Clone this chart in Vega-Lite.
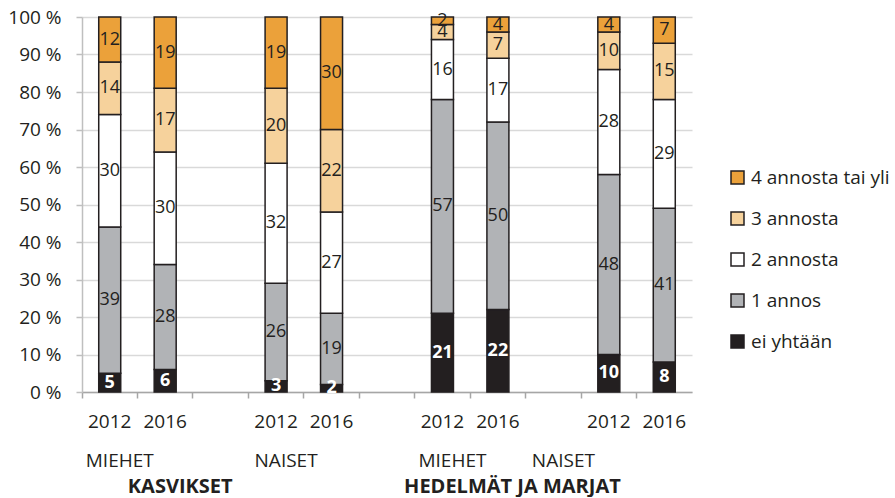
{
  "$schema": "https://vega.github.io/schema/vega-lite/v6.json",
  "width": 610,
  "height": 375,
  "padding": {"left": 7, "top": 8, "right": 0, "bottom": 0},
  "background": "white",
  "config": {"view": {"stroke": null}, "font": "Open Sans", "text": {"font": "Open Sans"}},
  "datasets": {
    "bars": [
      {"slot": "a1", "cat": "ei yhtään", "rank": 0, "value": 5},
      {"slot": "a1", "cat": "1 annos", "rank": 1, "value": 39},
      {"slot": "a1", "cat": "2 annosta", "rank": 2, "value": 30},
      {"slot": "a1", "cat": "3 annosta", "rank": 3, "value": 14},
      {"slot": "a1", "cat": "4 annosta tai yli", "rank": 4, "value": 12},
      {"slot": "a2", "cat": "ei yhtään", "rank": 0, "value": 6},
      {"slot": "a2", "cat": "1 annos", "rank": 1, "value": 28},
      {"slot": "a2", "cat": "2 annosta", "rank": 2, "value": 30},
      {"slot": "a2", "cat": "3 annosta", "rank": 3, "value": 17},
      {"slot": "a2", "cat": "4 annosta tai yli", "rank": 4, "value": 19},
      {"slot": "b1", "cat": "ei yhtään", "rank": 0, "value": 3},
      {"slot": "b1", "cat": "1 annos", "rank": 1, "value": 26},
      {"slot": "b1", "cat": "2 annosta", "rank": 2, "value": 32},
      {"slot": "b1", "cat": "3 annosta", "rank": 3, "value": 20},
      {"slot": "b1", "cat": "4 annosta tai yli", "rank": 4, "value": 19},
      {"slot": "b2", "cat": "ei yhtään", "rank": 0, "value": 2},
      {"slot": "b2", "cat": "1 annos", "rank": 1, "value": 19},
      {"slot": "b2", "cat": "2 annosta", "rank": 2, "value": 27},
      {"slot": "b2", "cat": "3 annosta", "rank": 3, "value": 22},
      {"slot": "b2", "cat": "4 annosta tai yli", "rank": 4, "value": 30},
      {"slot": "c1", "cat": "ei yhtään", "rank": 0, "value": 21},
      {"slot": "c1", "cat": "1 annos", "rank": 1, "value": 57},
      {"slot": "c1", "cat": "2 annosta", "rank": 2, "value": 16},
      {"slot": "c1", "cat": "3 annosta", "rank": 3, "value": 4},
      {"slot": "c1", "cat": "4 annosta tai yli", "rank": 4, "value": 2},
      {"slot": "c2", "cat": "ei yhtään", "rank": 0, "value": 22},
      {"slot": "c2", "cat": "1 annos", "rank": 1, "value": 50},
      {"slot": "c2", "cat": "2 annosta", "rank": 2, "value": 17},
      {"slot": "c2", "cat": "3 annosta", "rank": 3, "value": 7},
      {"slot": "c2", "cat": "4 annosta tai yli", "rank": 4, "value": 4},
      {"slot": "d1", "cat": "ei yhtään", "rank": 0, "value": 10},
      {"slot": "d1", "cat": "1 annos", "rank": 1, "value": 48},
      {"slot": "d1", "cat": "2 annosta", "rank": 2, "value": 28},
      {"slot": "d1", "cat": "3 annosta", "rank": 3, "value": 10},
      {"slot": "d1", "cat": "4 annosta tai yli", "rank": 4, "value": 4},
      {"slot": "d2", "cat": "ei yhtään", "rank": 0, "value": 8},
      {"slot": "d2", "cat": "1 annos", "rank": 1, "value": 41},
      {"slot": "d2", "cat": "2 annosta", "rank": 2, "value": 29},
      {"slot": "d2", "cat": "3 annosta", "rank": 3, "value": 15},
      {"slot": "d2", "cat": "4 annosta tai yli", "rank": 4, "value": 7}
    ],
    "groups": [
      {"slot": "a1", "label": "MIEHET"},
      {"slot": "b1", "label": "NAISET"},
      {"slot": "c1", "label": "MIEHET"},
      {"slot": "gz", "label": "NAISET"}
    ],
    "titles": [
      {"slot": "gx", "label": "KASVIKSET"},
      {"slot": "d1", "label": "HEDELMÄT JA MARJAT"}
    ]
  },
  "layer": [
    {
      "data": {"name": "bars"},
      "transform": [
        {"stack": "value", "groupby": ["slot"], "sort": [{"field": "rank", "order": "ascending"}], "as": ["v0", "v1"]}
      ],
      "mark": {"type": "bar", "width": 22, "stroke": "#231F20", "strokeWidth": 1.5},
      "encoding": {
        "x": {
          "field": "slot", "type": "nominal",
          "scale": {"domain": ["a1","a2","gx","b1","b2","gy","c1","c2","gz","d1","d2"], "paddingInner": 0, "paddingOuter": 0},
          "axis": {
            "title": null, "labelAngle": 0, "bandPosition": 0,
            "labelExpr": "indexof(datum.value,'1')>=0 ? '2012' : (indexof(datum.value,'2')>=0 ? '2016' : '')",
            "labelFontSize": 19, "labelColor": "#231F20", "labelPadding": 14, "labelOverlap": false,
            "domainColor": "#A6A6A6", "domainWidth": 1.5, "tickColor": "#A6A6A6", "tickWidth": 1.5, "tickSize": 6,
            "grid": false
          }
        },
        "y": {
          "field": "v0", "type": "quantitative",
          "scale": {"domain": [0, 100], "nice": false},
          "axis": {
            "title": null, "values": [0,10,20,30,40,50,60,70,80,90,100],
            "labelExpr": "datum.value + ' %'", "labelOverlap": false,
            "labelFontSize": 19, "labelColor": "#231F20", "labelPadding": 15,
            "grid": true, "gridColor": "#D9D9D9", "gridWidth": 1.5,
            "domainColor": "#BFBFBF", "domainWidth": 1.5, "tickColor": "#BFBFBF", "tickWidth": 1.5, "tickSize": 6
          }
        },
        "y2": {"field": "v1"},
        "color": {
          "field": "cat", "type": "nominal",
          "scale": {
            "domain": ["4 annosta tai yli", "3 annosta", "2 annosta", "1 annos", "ei yhtään"],
            "range": ["#EBA13A", "#F6D29C", "#FFFFFF", "#B1B3B6", "#231F20"]
          },
          "legend": {
            "title": null, "orient": "none", "legendX": 646, "legendY": 151,
            "symbolType": "square", "symbolSize": 169, "symbolStrokeColor": "#231F20", "symbolStrokeWidth": 1.5,
            "labelFontSize": 19, "labelColor": "#231F20", "rowPadding": 21, "labelOffset": 4
          }
        }
      }
    },
    {
      "data": {"name": "bars"},
      "transform": [
        {"stack": "value", "groupby": ["slot"], "sort": [{"field": "rank", "order": "ascending"}], "as": ["v0", "v1"]},
        {"calculate": "(datum.v0 + datum.v1) / 2", "as": "mid"},
        {"filter": "datum.cat !== 'ei yhtään'"}
      ],
      "mark": {"type": "text", "fontSize": 18, "color": "#231F20", "baseline": "middle"},
      "encoding": {
        "x": {"field": "slot", "type": "nominal"},
        "y": {
          "field": "mid", "type": "quantitative",
          "axis": {
            "title": null, "values": [0,10,20,30,40,50,60,70,80,90,100],
            "labelExpr": "datum.value + ' %'", "labelOverlap": false,
            "labelFontSize": 19, "labelColor": "#231F20", "labelPadding": 15,
            "grid": true, "gridColor": "#D9D9D9", "gridWidth": 1.5,
            "domainColor": "#BFBFBF", "domainWidth": 1.5, "tickColor": "#BFBFBF", "tickWidth": 1.5, "tickSize": 6
          }
        },
        "text": {"field": "value", "type": "quantitative"}
      }
    },
    {
      "data": {"name": "bars"},
      "transform": [
        {"stack": "value", "groupby": ["slot"], "sort": [{"field": "rank", "order": "ascending"}], "as": ["v0", "v1"]},
        {"calculate": "(datum.v0 + datum.v1) / 2", "as": "mid"},
        {"filter": "datum.cat === 'ei yhtään'"}
      ],
      "mark": {"type": "text", "fontSize": 18, "fontWeight": "bold", "color": "#FFFFFF", "baseline": "middle"},
      "encoding": {
        "x": {"field": "slot", "type": "nominal"},
        "y": {
          "field": "mid", "type": "quantitative",
          "axis": {
            "title": null, "values": [0,10,20,30,40,50,60,70,80,90,100],
            "labelExpr": "datum.value + ' %'", "labelOverlap": false,
            "labelFontSize": 19, "labelColor": "#231F20", "labelPadding": 15,
            "grid": true, "gridColor": "#D9D9D9", "gridWidth": 1.5,
            "domainColor": "#BFBFBF", "domainWidth": 1.5, "tickColor": "#BFBFBF", "tickWidth": 1.5, "tickSize": 6
          }
        },
        "text": {"field": "value", "type": "quantitative"}
      }
    },
    {
      "data": {"name": "groups"},
      "mark": {"type": "text", "fontSize": 19, "color": "#231F20", "baseline": "middle", "dx": 10},
      "encoding": {
        "x": {"field": "slot", "type": "nominal"},
        "y": {
          "datum": -18.4,
          "axis": {
            "title": null, "values": [0,10,20,30,40,50,60,70,80,90,100],
            "labelExpr": "datum.value + ' %'", "labelOverlap": false,
            "labelFontSize": 19, "labelColor": "#231F20", "labelPadding": 15,
            "grid": true, "gridColor": "#D9D9D9", "gridWidth": 1.5,
            "domainColor": "#BFBFBF", "domainWidth": 1.5, "tickColor": "#BFBFBF", "tickWidth": 1.5, "tickSize": 6
          }
        },
        "text": {"field": "label"}
      }
    },
    {
      "data": {"name": "titles"},
      "mark": {"type": "text", "fontSize": 20, "fontWeight": "bold", "color": "#231F20", "baseline": "middle", "align": "right", "dx": 12},
      "encoding": {
        "x": {"field": "slot", "type": "nominal"},
        "y": {
          "datum": -25.2,
          "axis": {
            "title": null, "values": [0,10,20,30,40,50,60,70,80,90,100],
            "labelExpr": "datum.value + ' %'", "labelOverlap": false,
            "labelFontSize": 19, "labelColor": "#231F20", "labelPadding": 15,
            "grid": true, "gridColor": "#D9D9D9", "gridWidth": 1.5,
            "domainColor": "#BFBFBF", "domainWidth": 1.5, "tickColor": "#BFBFBF", "tickWidth": 1.5, "tickSize": 6
          }
        },
        "text": {"field": "label"}
      }
    }
  ]
}
